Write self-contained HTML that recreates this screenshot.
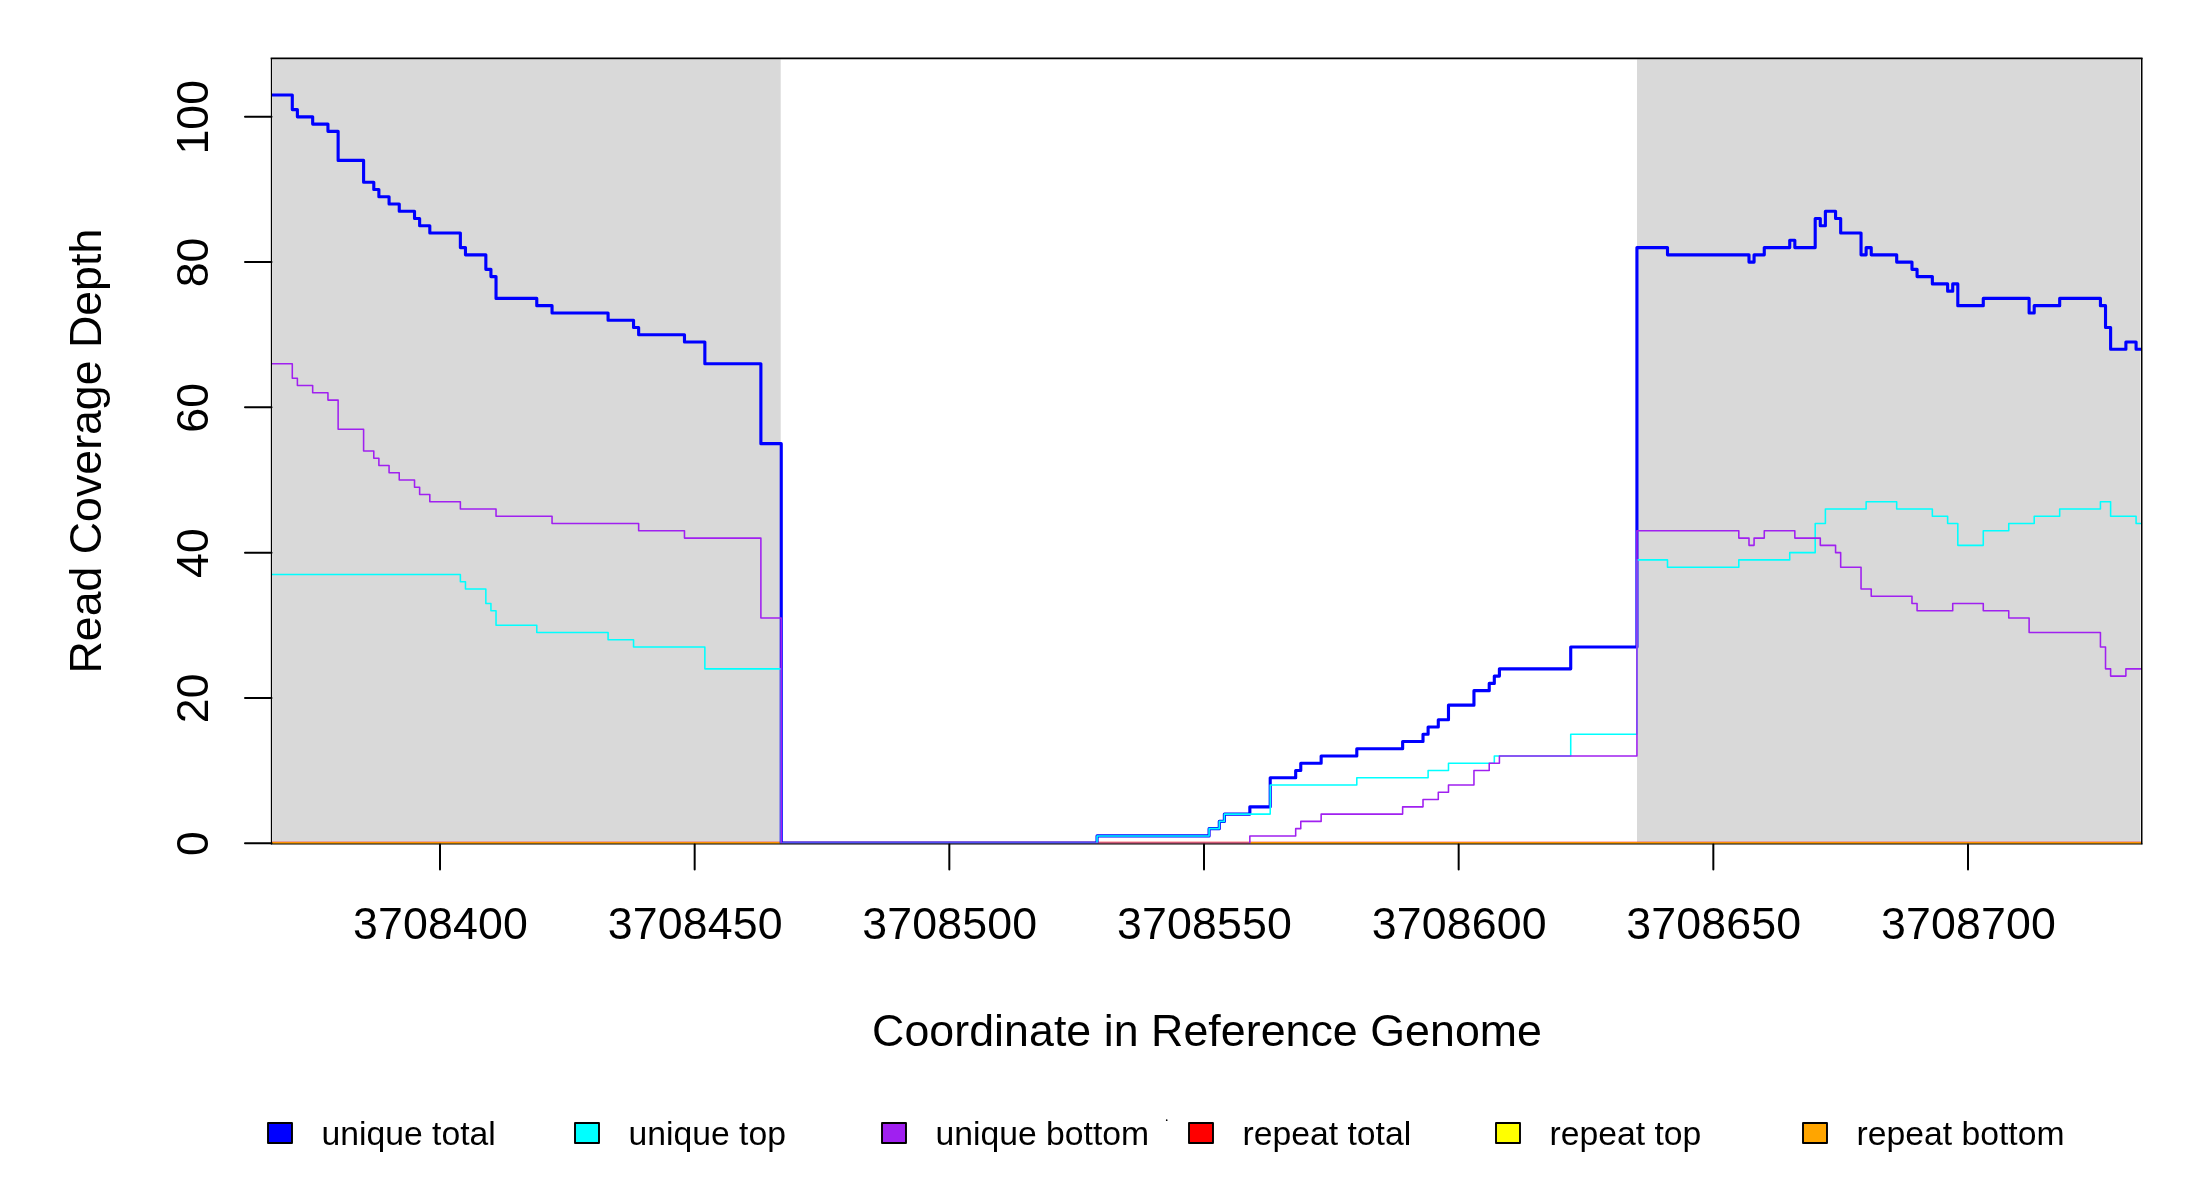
<!DOCTYPE html>
<html><head><meta charset="utf-8"><style>
html,body{margin:0;padding:0;background:#fff;overflow:hidden}
svg{display:block}
#wrap{will-change:transform;width:2200px;height:1200px}
text{font-family:"Liberation Sans",sans-serif;fill:#000}
</style></head><body>
<div id="wrap"><svg width="2200" height="1200" viewBox="0 0 2200 1200">
<defs><clipPath id="pc"><rect x="271.50" y="58.30" width="1870.00" height="785.20"/></clipPath></defs>
<rect x="0" y="0" width="2200" height="1200" fill="#fff"/>
<rect x="272.40" y="59.40" width="508.30" height="784.20" fill="#d9d9d9"/>
<rect x="1637.00" y="59.40" width="503.50" height="784.20" fill="#d9d9d9"/>
<g clip-path="url(#pc)" fill="none" stroke-linejoin="round" stroke-linecap="round">
<path d="M271.50 843.17H2141.50" stroke="#ff0000" stroke-width="2.600"/>
<path d="M271.50 843.17H2141.50" stroke="#ffff00" stroke-width="1.562"/>
<path d="M271.50 843.17H2141.50" stroke="#ffa500" stroke-width="1.562"/>
<path d="M271.50 95.04H292.29V109.57H297.39V116.83H312.67V124.09H327.95V131.36H338.13V160.41H363.60V182.20H373.79V189.46H378.88V196.73H389.07V203.99H399.25V211.25H414.53V218.52H419.63V225.78H429.81V233.04H460.37V247.57H465.47V254.83H485.84V269.36H490.93V276.62H496.03V298.42H536.77V305.68H552.05V312.94H608.08V320.21H633.55V327.47H638.64V334.73H684.48V342.00H704.85V363.79H760.88V443.68H781.25V843.17H1097.04V835.91H1209.09V828.64H1219.28V821.38H1224.37V814.12H1249.84V806.85H1270.21V777.80H1295.68V770.54H1300.77V763.27H1321.15V756.01H1356.80V748.75H1402.64V741.48H1423.01V734.22H1428.11V726.96H1438.29V719.69H1448.48V705.17H1473.95V690.64H1489.23V683.38H1494.32V676.11H1499.41V668.85H1570.72V647.06H1636.93V247.57H1667.49V254.83H1748.99V262.10H1754.08V254.83H1764.27V247.57H1789.73V240.31H1794.83V247.57H1815.20V218.52H1820.29V225.78H1825.39V211.25H1835.57V218.52H1840.67V233.04H1861.04V254.83H1866.13V247.57H1871.23V254.83H1896.69V262.10H1911.97V269.36H1917.07V276.62H1932.35V283.89H1947.63V291.15H1952.72V283.89H1957.81V305.68H1983.28V298.42H2029.12V312.94H2034.21V305.68H2059.68V298.42H2100.43V305.68H2105.52V327.47H2110.61V349.26H2125.89V342.00H2136.08V349.26H2141.50" stroke="#0000ff" stroke-width="3.125"/>
<path d="M271.50 574.42H460.37V581.69H465.47V588.95H485.84V603.48H490.93V610.74H496.03V625.27H536.77V632.53H608.08V639.79H633.55V647.06H704.85V668.85H781.25V843.17H1097.04V835.91H1209.09V828.64H1219.28V821.38H1224.37V814.12H1270.21V785.06H1356.80V777.80H1428.11V770.54H1448.48V763.27H1494.32V756.01H1570.72V734.22H1636.93V559.90H1667.49V567.16H1738.80V559.90H1789.73V552.63H1815.20V523.58H1825.39V509.05H1866.13V501.79H1896.69V509.05H1932.35V516.32H1947.63V523.58H1957.81V545.37H1983.28V530.84H2008.75V523.58H2034.21V516.32H2059.68V509.05H2100.43V501.79H2110.61V516.32H2136.08V523.58H2141.50" stroke="#00ffff" stroke-width="1.562"/>
<path d="M271.50 363.79H292.29V378.31H297.39V385.58H312.67V392.84H327.95V400.10H338.13V429.16H363.60V450.95H373.79V458.21H378.88V465.47H389.07V472.74H399.25V480.00H414.53V487.26H419.63V494.53H429.81V501.79H460.37V509.05H496.03V516.32H552.05V523.58H638.64V530.84H684.48V538.11H760.88V618.00H781.25V843.17H1249.84V835.91H1295.68V828.64H1300.77V821.38H1321.15V814.12H1402.64V806.85H1423.01V799.59H1438.29V792.33H1448.48V785.06H1473.95V770.54H1489.23V763.27H1499.41V756.01H1636.93V530.84H1738.80V538.11H1748.99V545.37H1754.08V538.11H1764.27V530.84H1794.83V538.11H1820.29V545.37H1835.57V552.63H1840.67V567.16H1861.04V588.95H1871.23V596.21H1911.97V603.48H1917.07V610.74H1952.72V603.48H1983.28V610.74H2008.75V618.00H2029.12V632.53H2100.43V647.06H2105.52V668.85H2110.61V676.11H2125.89V668.85H2141.50" stroke="#a020f0" stroke-width="1.562"/>
</g>
<path d="M270.90 844.00H2142.50" stroke="#000" stroke-width="1.00"/>
<path d="M271.45 58.40H2141.75" stroke="#000" stroke-width="1.6" stroke-linecap="square"/>
<path d="M271.45 58.00V844.30" stroke="#000" stroke-width="1.2"/>
<path d="M2141.75 58.00V844.30" stroke="#000" stroke-width="1.5"/>
<path d="M245.00 843.17H271.50" stroke="#000" stroke-width="2" stroke-linecap="round"/>
<path d="M245.00 697.90H271.50" stroke="#000" stroke-width="2" stroke-linecap="round"/>
<path d="M245.00 552.63H271.50" stroke="#000" stroke-width="2" stroke-linecap="round"/>
<path d="M245.00 407.37H271.50" stroke="#000" stroke-width="2" stroke-linecap="round"/>
<path d="M245.00 262.10H271.50" stroke="#000" stroke-width="2" stroke-linecap="round"/>
<path d="M245.00 116.83H271.50" stroke="#000" stroke-width="2" stroke-linecap="round"/>
<path d="M440.00 844.60V869.60" stroke="#000" stroke-width="2" stroke-linecap="round"/>
<path d="M694.67 844.60V869.60" stroke="#000" stroke-width="2" stroke-linecap="round"/>
<path d="M949.33 844.60V869.60" stroke="#000" stroke-width="2" stroke-linecap="round"/>
<path d="M1204.00 844.60V869.60" stroke="#000" stroke-width="2" stroke-linecap="round"/>
<path d="M1458.67 844.60V869.60" stroke="#000" stroke-width="2" stroke-linecap="round"/>
<path d="M1713.33 844.60V869.60" stroke="#000" stroke-width="2" stroke-linecap="round"/>
<path d="M1968.00 844.60V869.60" stroke="#000" stroke-width="2" stroke-linecap="round"/>
<text x="0" y="0" transform="translate(208.0 843.57) rotate(-90)" text-anchor="middle" font-size="44.70">0</text>
<text x="0" y="0" transform="translate(208.0 698.30) rotate(-90)" text-anchor="middle" font-size="44.70">20</text>
<text x="0" y="0" transform="translate(208.0 553.03) rotate(-90)" text-anchor="middle" font-size="44.70">40</text>
<text x="0" y="0" transform="translate(208.0 407.77) rotate(-90)" text-anchor="middle" font-size="44.70">60</text>
<text x="0" y="0" transform="translate(208.0 262.50) rotate(-90)" text-anchor="middle" font-size="44.70">80</text>
<text x="0" y="0" transform="translate(208.0 117.23) rotate(-90)" text-anchor="middle" font-size="44.70">100</text>
<text x="440.52" y="938.6" text-anchor="middle" font-size="44.70" letter-spacing="0.15">3708400</text>
<text x="695.19" y="938.6" text-anchor="middle" font-size="44.70" letter-spacing="0.15">3708450</text>
<text x="949.85" y="938.6" text-anchor="middle" font-size="44.70" letter-spacing="0.15">3708500</text>
<text x="1204.52" y="938.6" text-anchor="middle" font-size="44.70" letter-spacing="0.15">3708550</text>
<text x="1459.19" y="938.6" text-anchor="middle" font-size="44.70" letter-spacing="0.15">3708600</text>
<text x="1713.85" y="938.6" text-anchor="middle" font-size="44.70" letter-spacing="0.15">3708650</text>
<text x="1968.52" y="938.6" text-anchor="middle" font-size="44.70" letter-spacing="0.15">3708700</text>
<text x="1207.05" y="1046.3" text-anchor="middle" font-size="44.70" letter-spacing="0.055">Coordinate in Reference Genome</text>
<text x="0" y="0" transform="translate(100.5 451.1) rotate(-90)" text-anchor="middle" font-size="44.70">Read Coverage Depth</text>
<rect x="268.00" y="1123.0" width="24" height="20" fill="#0000ff" stroke="#000" stroke-width="1.9" stroke-linejoin="round"/>
<text x="321.60" y="1145.3" font-size="33.70">unique total</text>
<rect x="575.00" y="1123.0" width="24" height="20" fill="#00ffff" stroke="#000" stroke-width="1.9" stroke-linejoin="round"/>
<text x="628.60" y="1145.3" font-size="33.70">unique top</text>
<rect x="882.00" y="1123.0" width="24" height="20" fill="#a020f0" stroke="#000" stroke-width="1.9" stroke-linejoin="round"/>
<text x="935.60" y="1145.3" font-size="33.70">unique bottom</text>
<rect x="1189.00" y="1123.0" width="24" height="20" fill="#ff0000" stroke="#000" stroke-width="1.9" stroke-linejoin="round"/>
<text x="1242.60" y="1145.3" font-size="33.70">repeat total</text>
<rect x="1496.00" y="1123.0" width="24" height="20" fill="#ffff00" stroke="#000" stroke-width="1.9" stroke-linejoin="round"/>
<text x="1549.60" y="1145.3" font-size="33.70">repeat top</text>
<rect x="1803.00" y="1123.0" width="24" height="20" fill="#ffa500" stroke="#000" stroke-width="1.9" stroke-linejoin="round"/>
<text x="1856.60" y="1145.3" font-size="33.70">repeat bottom</text>
<circle cx="1166.7" cy="1120.2" r="0.85" fill="#000"/>
</svg></div></body></html>
